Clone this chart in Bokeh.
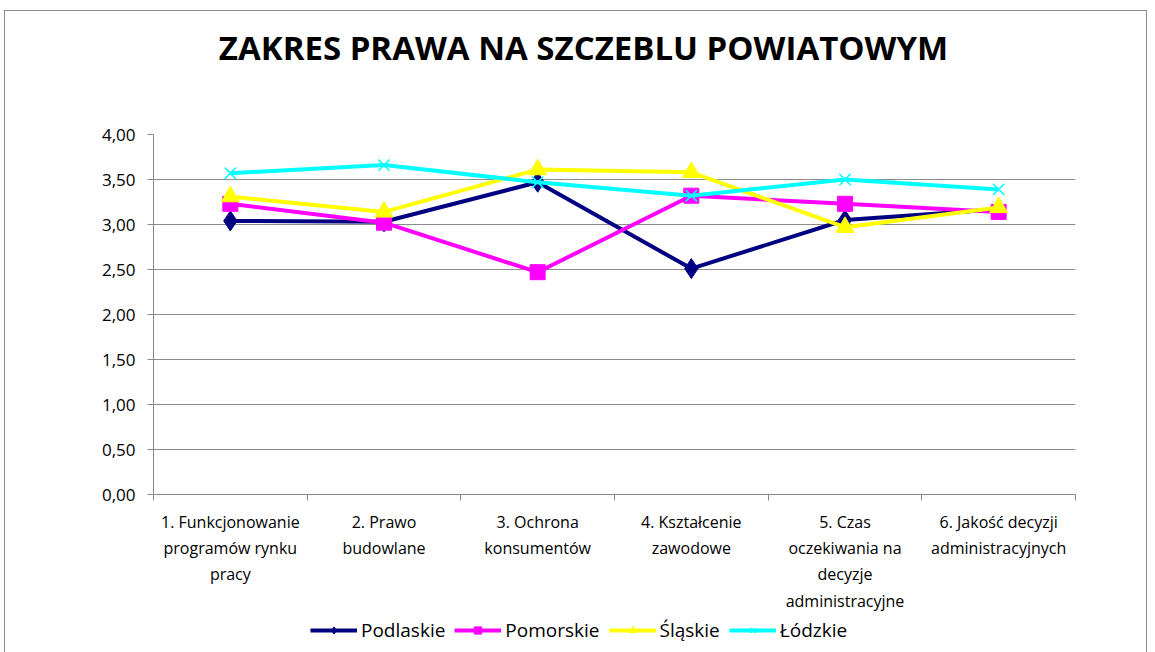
from bokeh.plotting import figure
from bokeh.models import FixedTicker, Legend, LegendItem, Div, Range1d
from bokeh.layouts import column
from bokeh.embed import file_html
from bokeh.resources import INLINE

categories = [
    "1. Funkcjonowanie\nprogramów rynku\npracy",
    "2. Prawo\nbudowlane",
    "3. Ochrona\nkonsumentów",
    "4. Kształcenie\nzawodowe",
    "5. Czas\noczekiwania na\ndecyzje\nadministracyjne",
    "6. Jakość decyzji\nadministracyjnych",
]
podlaskie = [3.04, 3.03, 3.47, 2.51, 3.05, 3.17]
pomorskie = [3.23, 3.02, 2.47, 3.32, 3.23, 3.14]
slaskie = [3.31, 3.14, 3.61, 3.58, 2.97, 3.19]
lodzkie = [3.57, 3.66, 3.47, 3.32, 3.50, 3.39]
y_ticks = [0.0, 0.5, 1.0, 1.5, 2.0, 2.5, 3.0, 3.5, 4.0]
series_names = ["Podlaskie", "Pomorskie", "Śląskie", "Łódzkie"]
title_text = "ZAKRES PRAWA NA SZCZEBLU POWIATOWYM"

FONT = "Open Sans"
xs = [i + 0.5 for i in range(len(categories))]
series = [podlaskie, pomorskie, slaskie, lodzkie]
colors = ["#000080", "#FF00FF", "#FFFF00", "#00FFFF"]
markers = ["diamond", "square", "triangle", "x"]
msizes = [20, 15, 18, 16]

title_div = Div(
    text=f'<div style="width:1141px;height:113px;line-height:74px;text-align:center;'
         f'font-family:\'Open Sans\';font-weight:bold;font-size:33px;color:black;'
         f'padding-left:16px;box-sizing:border-box;">{title_text}</div>',
    width=1141, height=113, margin=0)

p = figure(frame_width=922, frame_height=360, output_backend="svg", toolbar_location=None,
           x_range=(0, 6), y_range=(0, 4),
           min_border_left=148, min_border_right=71, min_border_top=10, min_border_bottom=100)
p.margin = 0
p.outline_line_color = None
p.background_fill_color = "white"
p.border_fill_color = "white"

p.xaxis.ticker = FixedTicker(ticks=xs, minor_ticks=list(range(7)))
p.xaxis.major_label_overrides = {x: c for x, c in zip(xs, categories)}
p.xaxis.major_tick_line_color = None
p.xaxis.minor_tick_in = 0
p.xaxis.minor_tick_out = 6
p.xaxis.minor_tick_line_color = "#888888"
p.xaxis.axis_line_color = "#888888"
p.xaxis.major_label_text_font = FONT
p.xaxis.major_label_text_font_size = "16px"
p.xaxis.major_label_standoff = 10
p.xaxis.major_label_text_color = "black"

p.yaxis.ticker = FixedTicker(ticks=y_ticks)
p.yaxis.major_label_overrides = {v: f"{v:.2f}".replace(".", ",") for v in y_ticks}
p.yaxis.major_tick_in = 0
p.yaxis.major_tick_out = 6
p.yaxis.major_tick_line_color = "#888888"
p.yaxis.minor_tick_line_color = None
p.yaxis.axis_line_color = "#888888"
p.yaxis.major_label_text_font = FONT
p.yaxis.major_label_text_font_size = "17px"
p.yaxis.major_label_standoff = 12
p.yaxis.major_label_text_color = "black"

p.xgrid.grid_line_color = None
p.ygrid.ticker = FixedTicker(ticks=y_ticks)
p.ygrid.grid_line_color = "#8c8c8c"
p.ygrid.grid_line_width = 1

for vals, c, mk, ms in zip(series, colors, markers, msizes):
    p.line(xs, vals, line_color=c, line_width=4)
    if mk == "x":
        p.scatter(xs, vals, marker=mk, size=ms, line_color=c, line_width=1.5)
    else:
        p.scatter(xs, vals, marker=mk, size=ms, fill_color=c, line_color=c)

# legend strip (its own small figure; its glyphs fall outside its ranges, so only the legend shows)
p2 = figure(width=1141, height=40, output_backend="svg", toolbar_location=None,
            x_range=Range1d(100, 101), y_range=Range1d(100, 101),
            min_border=0, x_axis_location=None, y_axis_location=None)
p2.margin = 0
p2.outline_line_color = None
p2.grid.grid_line_color = None
p2.background_fill_color = "white"
p2.border_fill_color = "white"
items = []
for name, vals, c, mk, ms in zip(series_names, series, colors, markers, msizes):
    ln = p2.line(xs, vals, line_color=c, line_width=4)
    if mk == "x":
        sc = p2.scatter(xs, vals, marker=mk, size=ms, line_color=c, line_width=1.5)
    else:
        sc = p2.scatter(xs, vals, marker=mk, size=ms * 0.75, fill_color=c, line_color=c)
    items.append(LegendItem(label=name, renderers=[ln, sc]))

legend = Legend(items=items, orientation="horizontal", location=(157, 11),
                border_line_color=None, background_fill_alpha=0,
                glyph_width=47, glyph_height=18, label_standoff=4, spacing=9,
                padding=3, margin=0,
                label_text_font=FONT, label_text_font_size="19px", label_text_color="black")
p2.add_layout(legend, "center")

layout = column(title_div, p, p2, spacing=0)
layout.styles = {"border": "1px solid #8c8c8c", "margin-left": "4px", "margin-top": "10px",
                 "background-color": "white"}

open("out.html", "w").write(file_html(layout, INLINE))
